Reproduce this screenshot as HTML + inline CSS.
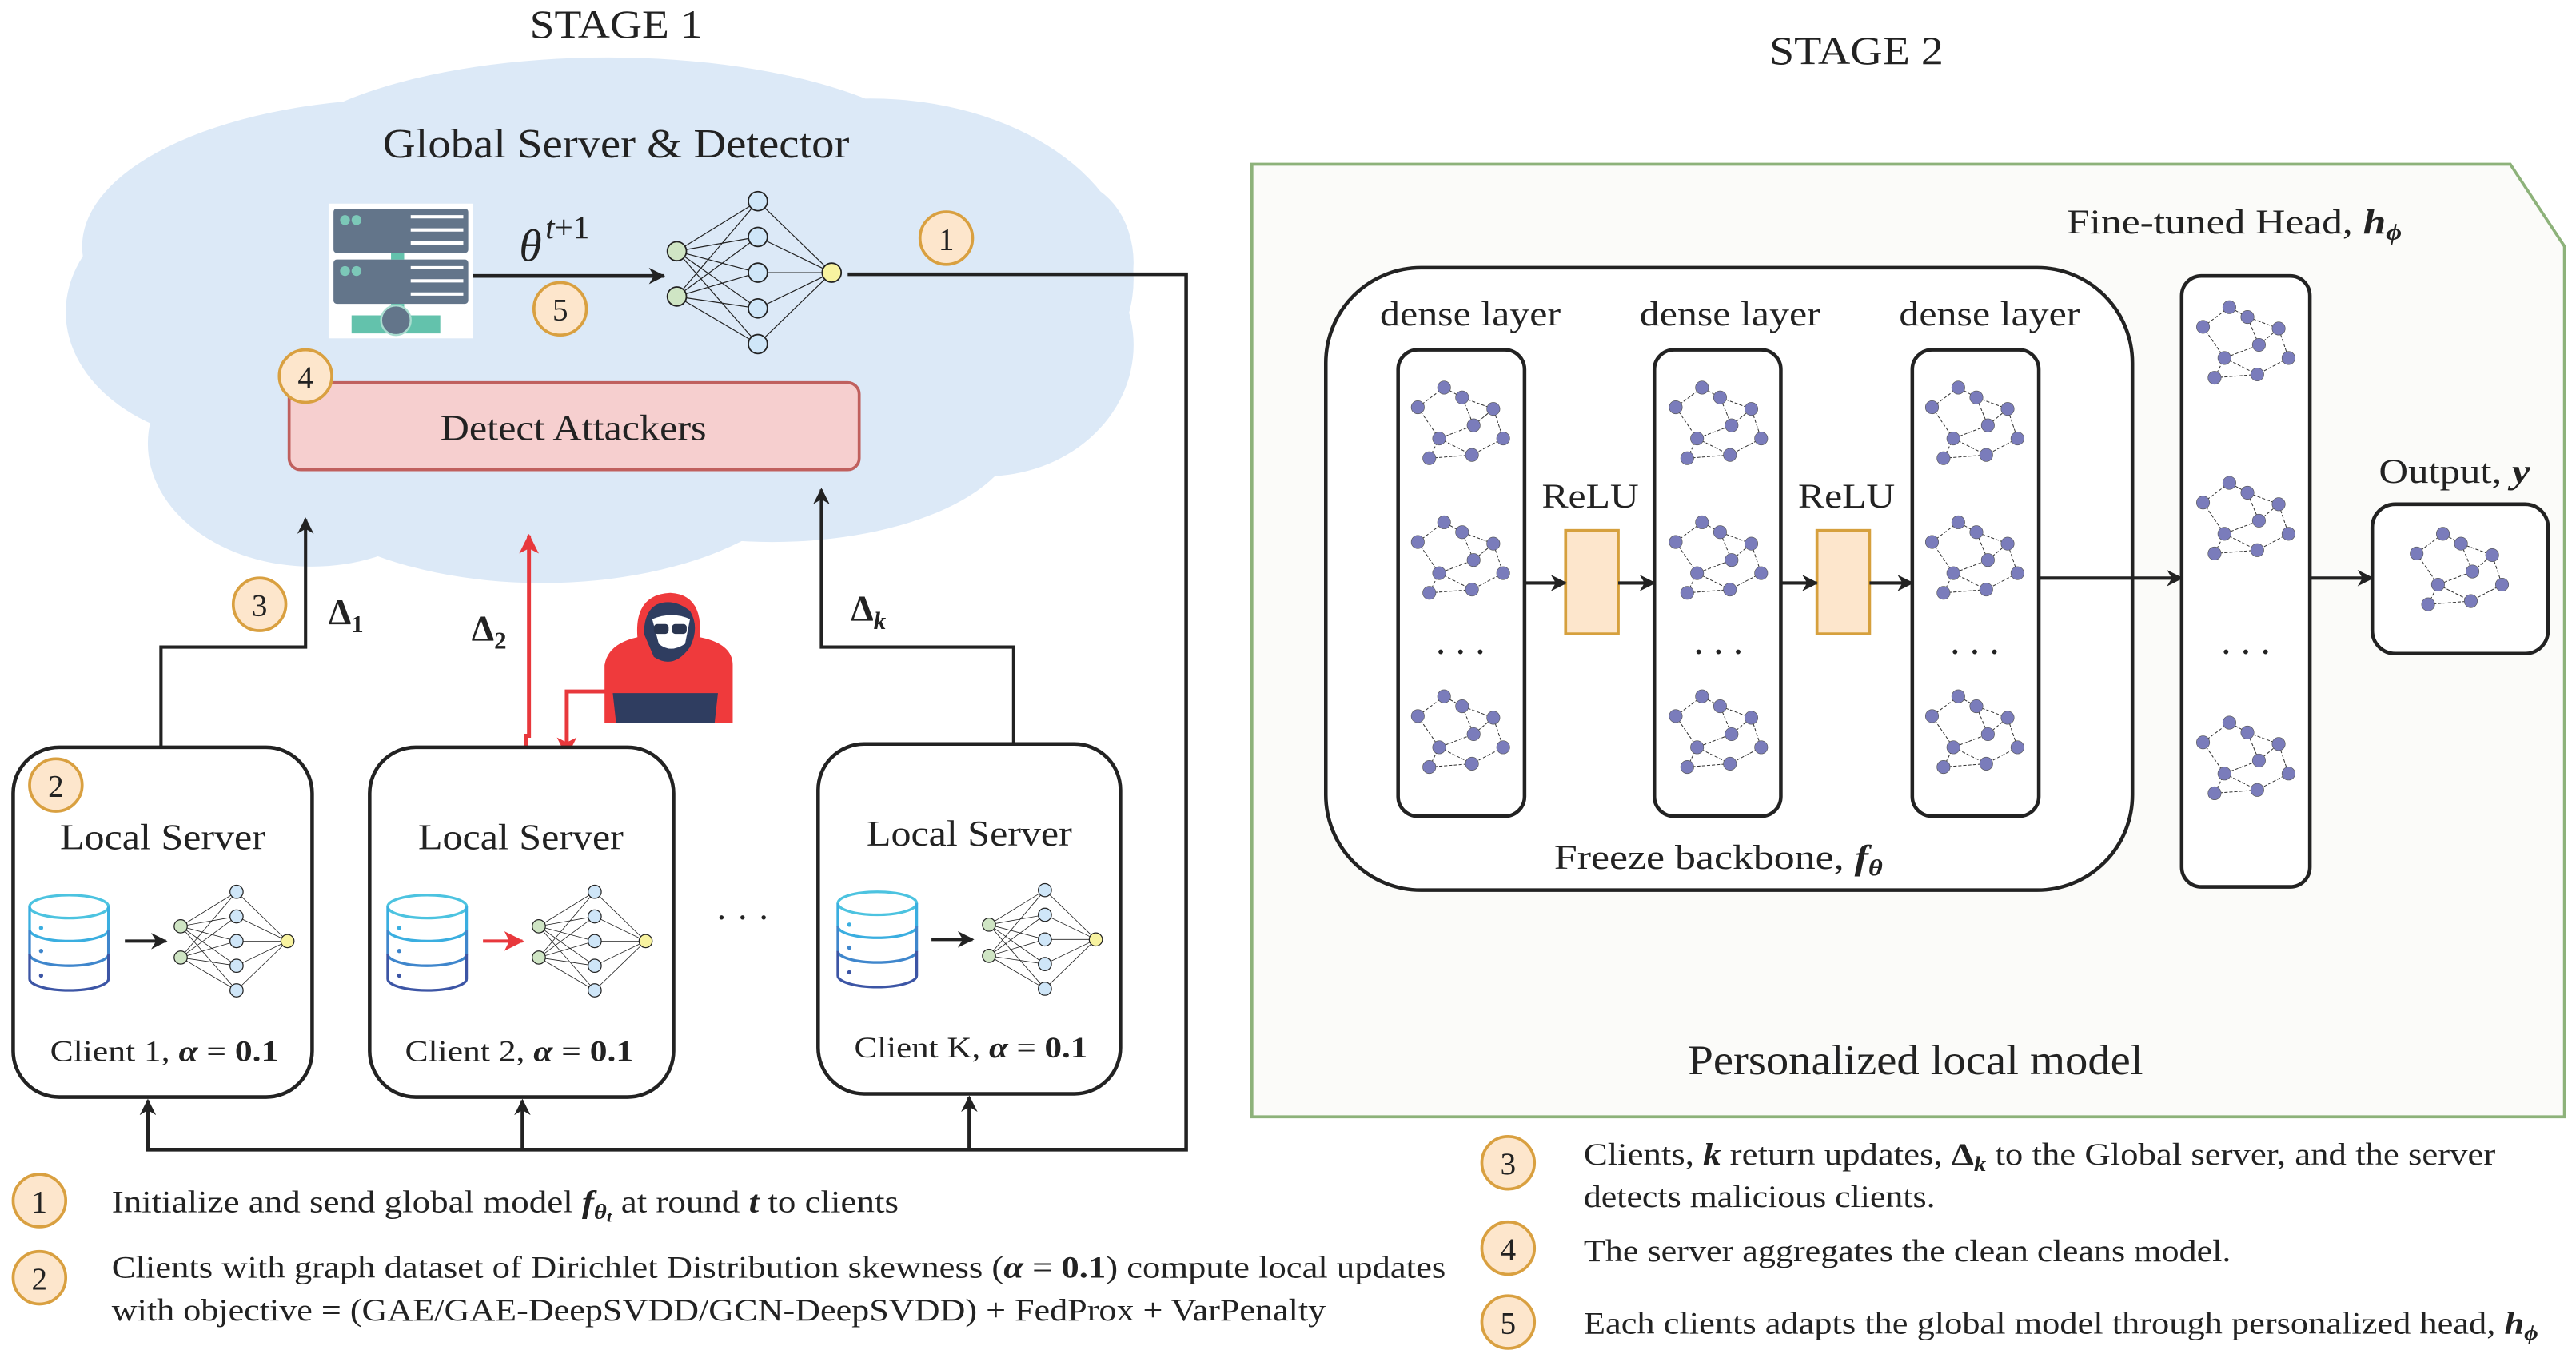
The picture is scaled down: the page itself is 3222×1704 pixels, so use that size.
<!DOCTYPE html>
<html><head><meta charset="utf-8"><style>
html,body{margin:0;padding:0;background:#fff}
svg{display:block}
text{font-family:"Liberation Serif",serif;fill:#222}
.it{font-style:italic;font-weight:bold}
</style></head><body>
<svg width="3222" height="1704" viewBox="0 0 1568 829.3" preserveAspectRatio="none" xmlns="http://www.w3.org/2000/svg">
<defs>
<marker id="ah" markerWidth="10" markerHeight="10" refX="9" refY="5" orient="auto" markerUnits="userSpaceOnUse"><path d="M0,0 L10,5 L0,10 L3,5 Z" fill="#222"/></marker>
<marker id="ahr" markerWidth="12" markerHeight="12" refX="11" refY="6" orient="auto" markerUnits="userSpaceOnUse"><path d="M0,0 L12,6 L0,12 L3,6 Z" fill="#e8383c"/></marker>
<g id="nn">
 <g stroke="#222" stroke-width="0.4">
  <path d="M0,-9 L34,-30 M0,-9 L34,-15 M0,-9 L34,0 M0,-9 L34,15 M0,-9 L34,30 M0,10 L34,-30 M0,10 L34,-15 M0,10 L34,0 M0,10 L34,15 M0,10 L34,30 M34,-30 L65,0 M34,-15 L65,0 M34,0 L65,0 M34,15 L65,0 M34,30 L65,0"/>
 </g>
 <g stroke="#222" stroke-width="0.6">
  <circle cx="0" cy="-9" r="4" fill="#cfe5c4"/><circle cx="0" cy="10" r="4" fill="#cfe5c4"/>
  <circle cx="34" cy="-30" r="4" fill="#cfe6f8"/><circle cx="34" cy="-15" r="4" fill="#cfe6f8"/><circle cx="34" cy="0" r="4" fill="#cfe6f8"/><circle cx="34" cy="15" r="4" fill="#cfe6f8"/><circle cx="34" cy="30" r="4" fill="#cfe6f8"/>
  <circle cx="65" cy="0" r="4" fill="#f8f3a0"/>
 </g>
</g>
<g id="db" fill="none" stroke-width="1.6">
 <ellipse cx="25" cy="8" rx="24" ry="7" stroke="#4cc3e0"/>
 <path d="M1,8 V22 A24,7 0 0 0 49,22 V8" stroke="#3aaee0"/>
 <path d="M1,22 V37 A24,7 0 0 0 49,37 V22" stroke="#3f86cc"/>
 <path d="M1,37 V52 A24,7 0 0 0 49,52 V37" stroke="#3c55a5"/>
 <circle cx="8" cy="21" r="1.3" fill="#3aaee0" stroke="none"/><circle cx="8" cy="35" r="1.3" fill="#3f86cc" stroke="none"/><circle cx="8" cy="50" r="1.3" fill="#3c55a5" stroke="none"/>
</g>
<g id="gr">
 <g stroke="#333" stroke-width="0.5" fill="none">
  <path d="M1,12 L17,0 L28,6 L47,13 L35,23 L28,6 M1,12 L14,31 L35,23 M14,31 L34,41 L53,31 L47,13 M8,43 L14,31 M8,43 L34,41" stroke-dasharray="2,1"/>
 </g>
 <g fill="#7a7cbb" stroke="#555" stroke-width="0.3">
  <circle cx="1" cy="12" r="4"/><circle cx="17" cy="0" r="4"/><circle cx="28" cy="6" r="4"/><circle cx="47" cy="13" r="4"/><circle cx="35" cy="23" r="4"/><circle cx="14" cy="31" r="4"/><circle cx="53" cy="31" r="4"/><circle cx="8" cy="43" r="4"/><circle cx="34" cy="41" r="4"/>
 </g>
</g>
<g id="num"><circle r="16" fill="#fde6cc" stroke="#d9a040" stroke-width="1.8"/></g>
</defs>

<!-- STAGE 1 -->
<text x="375" y="23" font-size="24" text-anchor="middle" textLength="105" lengthAdjust="spacingAndGlyphs">STAGE 1</text>
<g fill="#dce9f7">
 <ellipse cx="370" cy="110" rx="210" ry="75"/>
 <ellipse cx="250" cy="150" rx="200" ry="90"/>
 <ellipse cx="530" cy="170" rx="160" ry="110"/>
 <ellipse cx="150" cy="190" rx="110" ry="80"/>
 <ellipse cx="190" cy="270" rx="100" ry="75"/>
 <ellipse cx="330" cy="270" rx="170" ry="85"/>
 <ellipse cx="470" cy="260" rx="150" ry="70"/>
 <ellipse cx="600" cy="210" rx="90" ry="80"/>
 <ellipse cx="650" cy="160" rx="40" ry="50"/>
</g>
<text x="375" y="96" font-size="25" text-anchor="middle" textLength="284" lengthAdjust="spacingAndGlyphs">Global Server &amp; Detector</text>

<!-- server icon -->
<rect x="200" y="124" width="88" height="82" fill="#fff"/>
<rect x="203" y="127" width="82" height="27" rx="2" fill="#63758a"/>
<rect x="203" y="158" width="82" height="27" rx="2" fill="#63758a"/>
<circle cx="210" cy="134" r="3" fill="#7cc8b8"/><circle cx="217" cy="134" r="3" fill="#7cc8b8"/>
<circle cx="210" cy="165" r="3" fill="#7cc8b8"/><circle cx="217" cy="165" r="3" fill="#7cc8b8"/>
<g stroke="#fff" stroke-width="2"><path d="M250,132H282M250,140H282M250,148H282M250,163H282M250,171H282M250,179H282"/></g>
<rect x="238" y="154" width="8" height="4" fill="#63c2ac"/>
<rect x="238" y="185" width="8" height="10" fill="#63c2ac"/>
<rect x="214" y="192" width="54" height="11" fill="#63c2ac"/>
<circle cx="241" cy="195" r="9" fill="#63758a" stroke="#a8dccf" stroke-width="1.2"/>

<text x="316" y="159" font-size="28" font-style="italic">θ</text>
<text x="332" y="145" font-size="20" font-style="italic">t<tspan font-style="normal">+1</tspan></text>
<line x1="288" y1="168" x2="404" y2="168" stroke="#222" stroke-width="2.2" marker-end="url(#ah)"/>
<use href="#num" x="341" y="188"/><text x="341" y="195" font-size="19" text-anchor="middle" font-family="Liberation Sans,sans-serif">5</text>
<g transform="translate(412,166) scale(1.45)"><use href="#nn"/></g>
<use href="#num" x="576" y="145"/><text x="576" y="152" font-size="19" text-anchor="middle" font-family="Liberation Sans,sans-serif">1</text>
<path d="M516,167 H722 V700 H90 V670" fill="none" stroke="#222" stroke-width="2.2" marker-end="url(#ah)"/>
<path d="M318,700 V670" fill="none" stroke="#222" stroke-width="2.2" marker-end="url(#ah)"/>
<path d="M590,700 V668" fill="none" stroke="#222" stroke-width="2.2" marker-end="url(#ah)"/>

<rect x="176" y="233" width="347" height="53" rx="7" fill="#f6cfcf" stroke="#c0605e" stroke-width="1.8"/>
<text x="349" y="268" font-size="22" text-anchor="middle" textLength="162" lengthAdjust="spacingAndGlyphs">Detect Attackers</text>
<use href="#num" x="186" y="229"/><text x="186" y="236" font-size="19" text-anchor="middle" font-family="Liberation Sans,sans-serif">4</text>

<!-- upward arrows -->
<path d="M98,455 V394 H186 V316" fill="none" stroke="#222" stroke-width="2" marker-end="url(#ah)"/>
<use href="#num" x="158" y="368"/><text x="158" y="375" font-size="19" text-anchor="middle" font-family="Liberation Sans,sans-serif">3</text>
<text x="200" y="380" font-size="22" font-weight="bold">Δ<tspan font-size="15" dy="5">1</tspan></text>
<path d="M617,455 V394 H500 V298" fill="none" stroke="#222" stroke-width="2" marker-end="url(#ah)"/>
<text x="518" y="378" font-size="22" font-weight="bold">Δ<tspan font-size="15" dy="5" font-style="italic">k</tspan></text>
<path d="M320,455 V448 H322 V326" fill="none" stroke="#e8383c" stroke-width="2.4" marker-end="url(#ahr)"/>
<text x="287" y="390" font-size="22" font-weight="bold">Δ<tspan font-size="15" dy="5">2</tspan></text>
<path d="M386,421 H345 V460" fill="none" stroke="#e8383c" stroke-width="2.4" marker-end="url(#ahr)"/>

<!-- hacker -->
<path d="M368,440 V405 Q370,392 388,388 Q386,362 408,361 Q428,362 426,388 Q446,392 446,405 V440 Z" fill="#ef3a3c"/>
<path d="M392,386 Q392,372 400,368 Q410,364 420,372 Q426,382 420,394 Q410,408 398,400 Z" fill="#2f3d60"/>
<path d="M397,377 Q409,372 420,377 L417,392 Q408,398 401,392 Z" fill="#fff"/>
<rect x="398" y="380" width="9" height="6" rx="2" fill="#2a3550"/><rect x="409" y="380" width="9" height="6" rx="2" fill="#2a3550"/>
<path d="M375,440 L373,422 H437 L435,440 Z" fill="#2f3d60"/>

<!-- clients -->
<g fill="#fff" stroke="#222" stroke-width="2.2">
 <rect x="8" y="455" width="182" height="213" rx="28"/>
 <rect x="225" y="455" width="185" height="213" rx="28"/>
 <rect x="498" y="453" width="184" height="213" rx="28"/>
</g>
<use href="#num" x="34" y="478"/><text x="34" y="485" font-size="19" text-anchor="middle" font-family="Liberation Sans,sans-serif">2</text>
<text x="99" y="517" font-size="22" text-anchor="middle" textLength="125" lengthAdjust="spacingAndGlyphs">Local Server</text>
<text x="317" y="517" font-size="22" text-anchor="middle" textLength="125" lengthAdjust="spacingAndGlyphs">Local Server</text>
<text x="590" y="515" font-size="22" text-anchor="middle" textLength="125" lengthAdjust="spacingAndGlyphs">Local Server</text>
<use href="#db" x="17" y="544"/><use href="#db" x="235" y="544"/><use href="#db" x="509" y="542"/>
<line x1="76" y1="573" x2="101" y2="573" stroke="#222" stroke-width="2" marker-end="url(#ah)"/>
<line x1="294" y1="573" x2="318" y2="573" stroke="#e8383c" stroke-width="2" marker-end="url(#ahr)"/>
<line x1="567" y1="572" x2="592" y2="572" stroke="#222" stroke-width="2" marker-end="url(#ah)"/>
<use href="#nn" x="110" y="573"/><use href="#nn" x="328" y="573"/><use href="#nn" x="602" y="572"/>
<text x="100" y="646" font-size="18" text-anchor="middle" textLength="139" lengthAdjust="spacingAndGlyphs">Client 1, <tspan class="it">α</tspan> = <tspan font-weight="bold">0.1</tspan></text>
<text x="316" y="646" font-size="18" text-anchor="middle" textLength="139" lengthAdjust="spacingAndGlyphs">Client 2, <tspan class="it">α</tspan> = <tspan font-weight="bold">0.1</tspan></text>
<text x="591" y="644" font-size="18" text-anchor="middle" textLength="142" lengthAdjust="spacingAndGlyphs">Client K, <tspan class="it">α</tspan> = <tspan font-weight="bold">0.1</tspan></text>
<text x="452" y="566" font-size="22" text-anchor="middle">· · ·</text>

<!-- legend left -->
<use href="#num" x="24" y="731"/><text x="24" y="738" font-size="19" text-anchor="middle" font-family="Liberation Sans,sans-serif">1</text>
<text x="68" y="738" font-size="19" textLength="479" lengthAdjust="spacingAndGlyphs">Initialize and send global model <tspan class="it">f</tspan><tspan class="it" font-size="13" dy="4">θ</tspan><tspan class="it" font-size="10" dy="2">t</tspan><tspan dy="-6"> at round </tspan><tspan class="it">t</tspan> to clients</text>
<use href="#num" x="24" y="778"/><text x="24" y="785" font-size="19" text-anchor="middle" font-family="Liberation Sans,sans-serif">2</text>
<text x="68" y="778" font-size="19" textLength="812" lengthAdjust="spacingAndGlyphs">Clients with graph dataset of Dirichlet Distribution skewness (<tspan class="it">α</tspan> = <tspan font-weight="bold">0.1</tspan>) compute local updates</text>
<text x="68" y="804" font-size="19" textLength="739" lengthAdjust="spacingAndGlyphs">with objective = (GAE/GAE-DeepSVDD/GCN-DeepSVDD) + FedProx + VarPenalty</text>

<!-- STAGE 2 -->
<text x="1130" y="39" font-size="24" text-anchor="middle" textLength="106" lengthAdjust="spacingAndGlyphs">STAGE 2</text>
<path d="M762,100 H1528 L1561,150 V680 H762 Z" fill="#fbfbf9" stroke="#8db27a" stroke-width="1.8"/>
<text x="1360" y="142" font-size="21" text-anchor="middle" textLength="204" lengthAdjust="spacingAndGlyphs">Fine-tuned Head, <tspan class="it">h</tspan><tspan class="it" font-size="14" dy="4">ϕ</tspan></text>
<rect x="807" y="163" width="491" height="379" rx="58" fill="#fff" stroke="#222" stroke-width="2.2"/>
<g fill="#fff" stroke="#222" stroke-width="2.2">
 <rect x="851" y="213" width="77" height="284" rx="12"/>
 <rect x="1007" y="213" width="77" height="284" rx="12"/>
 <rect x="1164" y="213" width="77" height="284" rx="12"/>
 <rect x="1328" y="168" width="78" height="372" rx="12"/>
 <rect x="1444" y="307" width="107" height="91" rx="14"/>
</g>
<text x="895" y="198" font-size="21" text-anchor="middle" textLength="110" lengthAdjust="spacingAndGlyphs">dense layer</text>
<text x="1053" y="198" font-size="21" text-anchor="middle" textLength="110" lengthAdjust="spacingAndGlyphs">dense layer</text>
<text x="1211" y="198" font-size="21" text-anchor="middle" textLength="110" lengthAdjust="spacingAndGlyphs">dense layer</text>
<text x="968" y="309" font-size="21" text-anchor="middle" textLength="59" lengthAdjust="spacingAndGlyphs">ReLU</text>
<text x="1124" y="309" font-size="21" text-anchor="middle" textLength="59" lengthAdjust="spacingAndGlyphs">ReLU</text>
<rect x="953" y="323" width="32" height="63" fill="#fde6cc" stroke="#d6a03d" stroke-width="1.8"/>
<rect x="1106" y="323" width="32" height="63" fill="#fde6cc" stroke="#d6a03d" stroke-width="1.8"/>
<g stroke="#222" stroke-width="2" marker-end="url(#ah)">
 <line x1="928" y1="355" x2="953" y2="355"/><line x1="985" y1="355" x2="1007" y2="355"/>
 <line x1="1084" y1="355" x2="1106" y2="355"/><line x1="1138" y1="355" x2="1164" y2="355"/>
 <line x1="1241" y1="352" x2="1328" y2="352"/><line x1="1406" y1="352" x2="1444" y2="352"/>
</g>
<use href="#gr" x="862" y="236"/><use href="#gr" x="862" y="318"/><use href="#gr" x="862" y="424"/>
<use href="#gr" x="1019" y="236"/><use href="#gr" x="1019" y="318"/><use href="#gr" x="1019" y="424"/>
<use href="#gr" x="1175" y="236"/><use href="#gr" x="1175" y="318"/><use href="#gr" x="1175" y="424"/>
<use href="#gr" x="1340" y="187"/><use href="#gr" x="1340" y="294"/><use href="#gr" x="1340" y="440"/>
<use href="#gr" x="1470" y="325"/>
<g font-size="24" text-anchor="middle"><text x="889" y="398">. . .</text><text x="1046" y="398">. . .</text><text x="1202" y="398">. . .</text><text x="1367" y="398">. . .</text></g>
<text x="1046" y="529" font-size="21" text-anchor="middle" textLength="200" lengthAdjust="spacingAndGlyphs">Freeze backbone, <tspan class="it">f</tspan><tspan class="it" font-size="14" dy="4">θ</tspan></text>
<text x="1494" y="294" font-size="21" text-anchor="middle" textLength="92" lengthAdjust="spacingAndGlyphs">Output, <tspan class="it">y</tspan></text>
<text x="1166" y="654" font-size="26" text-anchor="middle" textLength="277" lengthAdjust="spacingAndGlyphs">Personalized local model</text>

<!-- legend right -->
<use href="#num" x="918" y="708"/><text x="918" y="715" font-size="19" text-anchor="middle" font-family="Liberation Sans,sans-serif">3</text>
<text x="964" y="709" font-size="19" textLength="555" lengthAdjust="spacingAndGlyphs">Clients, <tspan class="it">k</tspan> return updates, <tspan font-weight="bold">Δ</tspan><tspan class="it" font-size="13" dy="4">k</tspan><tspan dy="-4"> to the Global server, and the server</tspan></text>
<text x="964" y="735" font-size="19" textLength="214" lengthAdjust="spacingAndGlyphs">detects malicious clients.</text>
<use href="#num" x="918" y="760"/><text x="918" y="767" font-size="19" text-anchor="middle" font-family="Liberation Sans,sans-serif">4</text>
<text x="964" y="768" font-size="19" textLength="394" lengthAdjust="spacingAndGlyphs">The server aggregates the clean cleans model.</text>
<use href="#num" x="918" y="805"/><text x="918" y="812" font-size="19" text-anchor="middle" font-family="Liberation Sans,sans-serif">5</text>
<text x="964" y="812" font-size="19" textLength="581" lengthAdjust="spacingAndGlyphs">Each clients adapts the global model through personalized head, <tspan class="it">h</tspan><tspan class="it" font-size="13" dy="4">ϕ</tspan></text>
</svg>
</body></html>
